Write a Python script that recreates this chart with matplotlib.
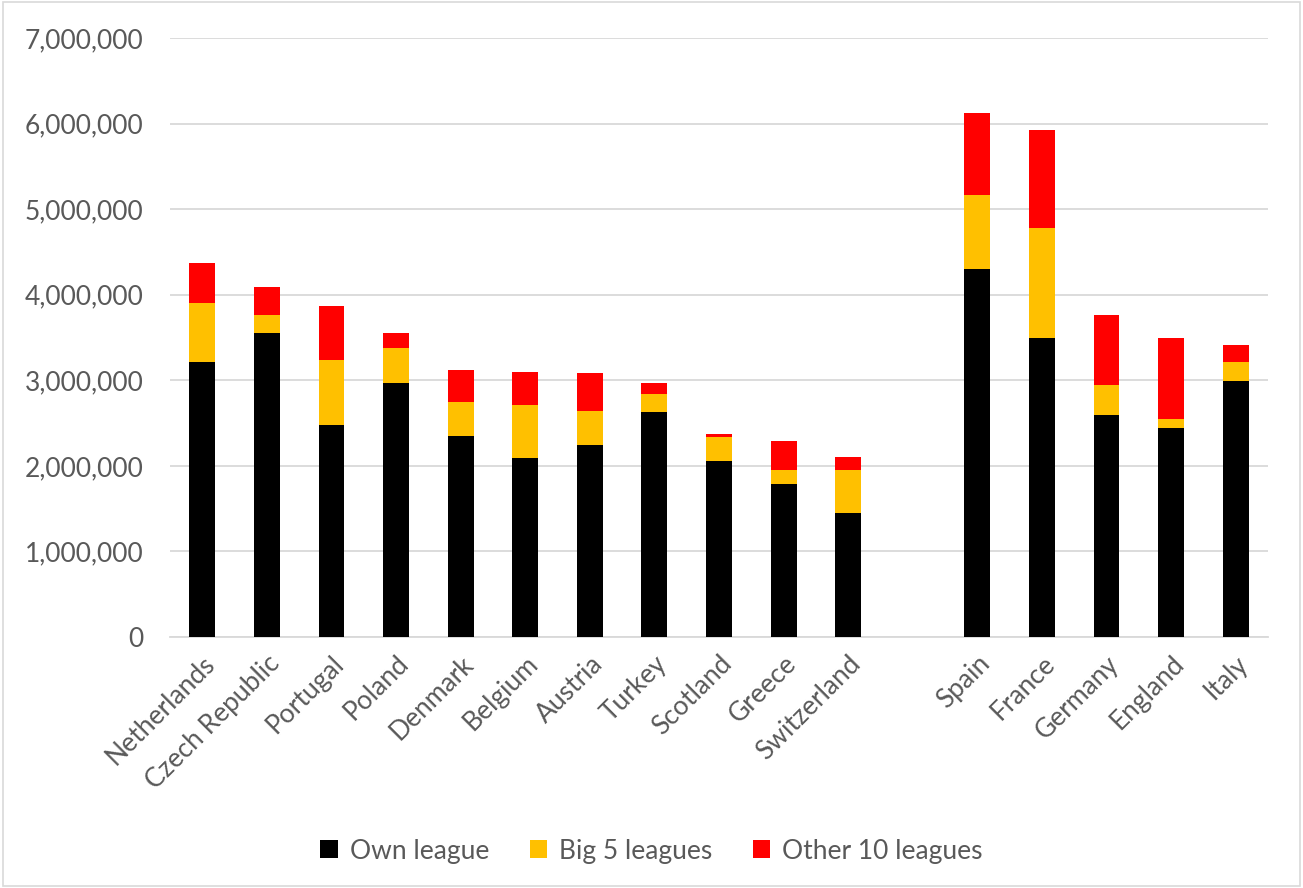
import numpy as np
import matplotlib as mpl
mpl.use('Agg')
import matplotlib.pyplot as plt
from matplotlib.ticker import FuncFormatter

countries = ['Netherlands', 'Czech Republic', 'Portugal', 'Poland', 'Denmark',
             'Belgium', 'Austria', 'Turkey', 'Scotland', 'Greece', 'Switzerland',
             'Spain', 'France', 'Germany', 'England', 'Italy']
# cumulative tops
own_league = [3214000, 3553000, 2477000, 2968000, 2349000, 2092000, 2244000, 2629000,
              2057000, 1788000, 1449000, 4300000, 3494000, 2594000, 2442000, 2992000]
big5_top = [3903000, 3763000, 3237000, 3377000, 2746000, 2711000, 2641000, 2840000,
            2337000, 1952000, 1952000, 5165000, 4780000, 2945000, 2548000, 3214000]
other_top = [4371000, 4090000, 3868000, 3553000, 3120000, 3097000, 3085000, 2968000,
             2372000, 2290000, 2104000, 6124000, 5925000, 3763000, 3494000, 3412000]

own = np.array(own_league)
big5 = np.array(big5_top) - own
other = np.array(other_top) - np.array(big5_top)

# gap of one empty slot between the two groups
xpos = np.array(list(range(11)) + list(range(12, 17)))

plt.rcParams['font.family'] = ['Lato', 'DejaVu Sans']
grey = '#595959'

fig = plt.figure(figsize=(13.03, 8.88), dpi=100)
ax = fig.add_axes([170/1303, 1-637/888, 1098/1303, 599/888])

w = 0.4
ax.bar(xpos, own, w, color='black', label='Own league', zorder=3)
ax.bar(xpos, big5, w, bottom=own, color='#FFC000', label='Big 5 leagues', zorder=3)
ax.bar(xpos, other, w, bottom=own + big5, color='#FF0000', label='Other 10 leagues', zorder=3)

ax.set_xlim(-0.5, 16.5)
ax.set_ylim(0, 7000000)
ax.set_yticks(np.arange(0, 7000001, 1000000))
ax.yaxis.set_major_formatter(FuncFormatter(lambda v, p: '{:,.0f}'.format(v)))
ax.grid(axis='y', color='#d9d9d9', linewidth=1.3, zorder=0)
ax.set_xticks(xpos)
ax.set_xticklabels(countries, rotation=45, ha='right', rotation_mode='anchor')
ax.tick_params(axis='both', length=0, labelsize=19, colors=grey)
ax.tick_params(axis='y', pad=19)
ax.tick_params(axis='x', pad=10)
for s in ['top', 'right', 'left']:
    ax.spines[s].set_visible(False)
ax.spines['bottom'].set_color('#d9d9d9')
ax.spines['bottom'].set_linewidth(1.3)

leg = fig.legend(loc='center', bbox_to_anchor=(0.5, 1-851/888), ncol=3, frameon=False,
                 fontsize=19, handlelength=0.65, handleheight=0.65, columnspacing=1.55,
                 handletextpad=0.45)
for t in leg.get_texts():
    t.set_color(grey)

fig.patches.append(plt.Rectangle((0.002, 0.002), 0.996, 0.996, transform=fig.transFigure,
                                 fill=False, edgecolor='#d9d9d9', linewidth=1.2))

plt.savefig('out.png', dpi=100)
